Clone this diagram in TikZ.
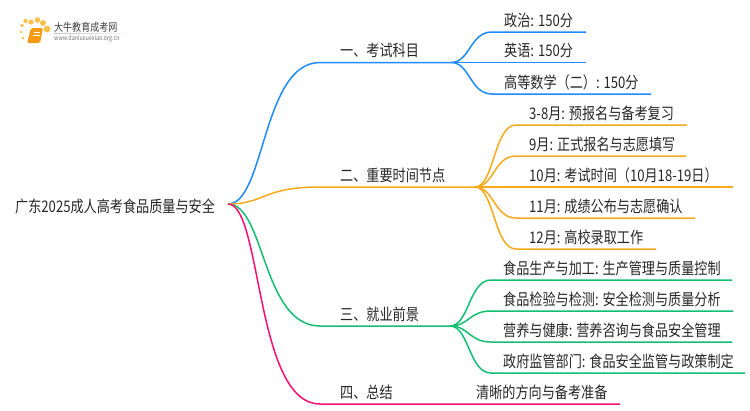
\documentclass[tikz,border=0pt]{standalone}
\usepackage{fontspec}
\setmainfont[FakeStretch=0.82]{Noto Sans CJK SC}
\definecolor{blueB}{HTML}{1E8CFF}
\definecolor{orgB}{HTML}{F8A91C}
\definecolor{grnB}{HTML}{10C070}
\definecolor{pnkB}{HTML}{FF0F6E}
\definecolor{bookO}{HTML}{F59A12}
\definecolor{dotO}{HTML}{FBC04A}
\tikzset{
  lbl/.style={anchor=base west,inner sep=0pt,text=black!85,font=\fontsize{16}{18}\selectfont},
  blueline/.style={draw=blueB,line width=1.5pt},
  orgline/.style={draw=orgB,line width=1.5pt},
  grnline/.style={draw=grnB,line width=1.5pt},
  pnkline/.style={draw=pnkB,line width=1.5pt},
}
\begin{document}
\begin{tikzpicture}[x=1pt,y=-1pt]
\useasboundingbox (0,0) rectangle (750,410);
% logo
\foreach \a/\b/\r in {23/38/1.3,21/32/1.4,22/25.5/1.8,25.5/21/2.2,31/22/2.6,37.5/20/2.8,43/23/3,47/29/3.4}
  \fill[dotO] (\a,\b) circle (\r);
\fill[bookO,rounded corners=1.5pt] (31,28) -- (43,28) -- (40,43) -- (27,43) -- cycle;
\draw[white,line width=.7pt] (33.5,32) -- (40,32) (33,35) -- (39.5,35);
\node[anchor=west,inner sep=0pt,text=black!75,font=\fontsize{11}{12}\selectfont] (logot) at (54,27) {大牛教育成考网};
\node[anchor=west,inner sep=0pt,text=black!55,font=\fontsize{6.6}{7}\selectfont] (logou) at (54,39) {www.daniuxuexiao.org.cn};
\shade[left color=black!25,right color=white] (54,33) rectangle (132,33.6);
% root
\node[lbl] (root) at (15,212.5) {广东2025成人高考食品质量与安全};
\coordinate (o) at (228,204);
% hubs
\coordinate (b1) at (451,62.5);
\coordinate (b2) at (475,187);
\coordinate (b3) at (450,326);
\coordinate (b4) at (620,404);
\draw[blueline] (o) .. controls (265,204) and (262,62.5) .. (320,62.5) -- (b1);
\draw[orgline] (o) .. controls (265,204) and (262,187) .. (320,187) -- (b2);
\draw[grnline] (o) .. controls (265,204) and (262,326) .. (320,326) -- (b3);
\draw[pnkline] (o) .. controls (262,204) and (255,404) .. (320,404) -- (b4);
\node[lbl] (t1) at (340,56) {一、考试科目};
\node[lbl] (t2) at (340,181) {二、重要时间节点};
\node[lbl] (t3) at (340,320) {三、就业前景};
\node[lbl] (t4) at (340,398) {四、总结};
% leaves 1
\foreach \n/\y/\e/\t in {a/32/586/政治: 150分,b/62.5/586/英语: 150分,c/94/651/高等数学（二）: 150分}{
  \coordinate (e\n) at (\e,\y);
  \draw[blueline] (b1) .. controls (470,62.5) and (470,\y) .. (492,\y) -- (e\n);
  \node[lbl] (l\n) at (504,\y-6) {\t};
}
% leaves 2
\foreach \n/\y/\e/\t in {d/125/687/3-8月: 预报名与备考复习,e/156/686/9月: 正式报名与志愿填写,f/187/733/10月: 考试时间（10月18-19日）,g/218/695/11月: 成绩公布与志愿确认,h/249/656/12月: 高校录取工作}{
  \coordinate (e\n) at (\e,\y);
  \draw[orgline] (b2) .. controls (494,187) and (494,\y) .. (516,\y) -- (e\n);
  \node[lbl] (l\n) at (529,\y-6) {\t};
}
% leaves 3
\foreach \n/\y/\e/\t in {i/280/732/食品生产与加工: 生产管理与质量控制,j/311/733/食品检验与检测: 安全检测与质量分析,k/342/732/营养与健康: 营养咨询与食品安全管理,l/373/745/政府监管部门: 食品安全监管与政策制定}{
  \coordinate (e\n) at (\e,\y);
  \draw[grnline] (b3) .. controls (469,326) and (469,\y) .. (491,\y) -- (e\n);
  \node[lbl] (l\n) at (503,\y-6) {\t};
}
\node[lbl] (lm) at (476,398) {清晰的方向与备考准备};
\end{tikzpicture}
\end{document}
